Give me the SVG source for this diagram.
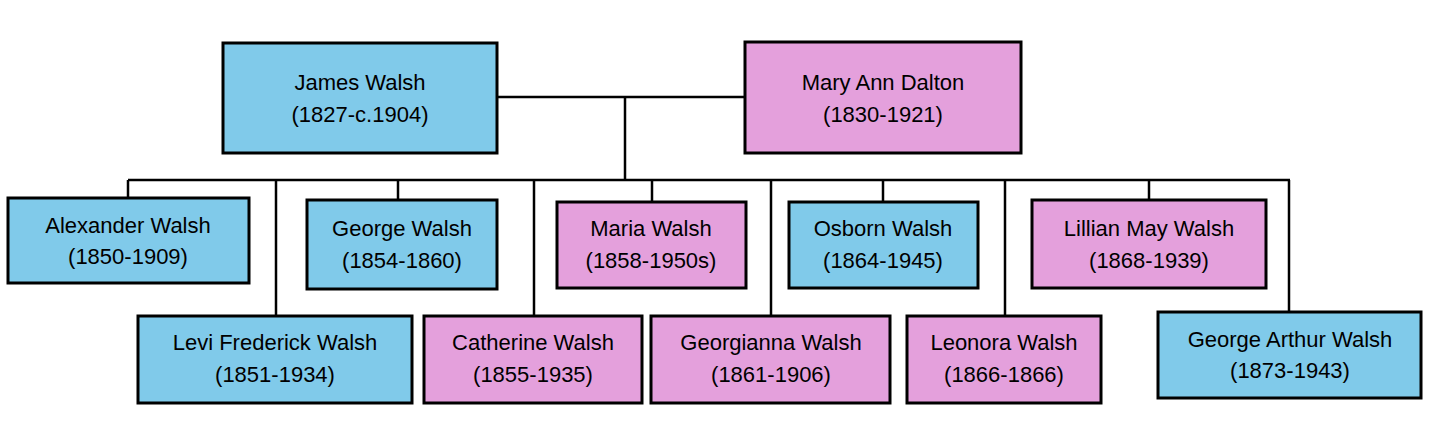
<svg xmlns="http://www.w3.org/2000/svg" width="1431" height="436" viewBox="0 0 1431 436">
<style>
.b{fill:#80CAEA;stroke:#000;stroke-width:3}
.p{fill:#E4A0DC;stroke:#000;stroke-width:3}
text{font-family:"Liberation Sans",Arial,sans-serif;font-size:22px;text-anchor:middle;fill:#000}
#connectors line{stroke:#000;stroke-width:2.5}
</style>
<rect width="1431" height="436" fill="#fff"/>
<g id="connectors">
<line x1="497" y1="97" x2="745" y2="97"/>
<line x1="625" y1="97" x2="625" y2="180"/>
<line x1="128" y1="180" x2="1290" y2="180"/>
<line x1="128" y1="180" x2="128" y2="198"/>
<line x1="398" y1="180" x2="398" y2="200"/>
<line x1="652" y1="180" x2="652" y2="202"/>
<line x1="883" y1="180" x2="883" y2="202"/>
<line x1="1149" y1="180" x2="1149" y2="200"/>
<line x1="276" y1="180" x2="276" y2="316"/>
<line x1="534" y1="180" x2="534" y2="316"/>
<line x1="771" y1="180" x2="771" y2="316"/>
<line x1="1005" y1="180" x2="1005" y2="316"/>
<line x1="1289" y1="180" x2="1289" y2="312"/>
</g>
<g id="james"><rect class="b" x="223" y="43" width="274" height="110"/><text x="360" y="90">James Walsh</text><text x="360" y="122">(1827-c.1904)</text></g>
<g id="mary"><rect class="p" x="745" y="42" width="276" height="111"/><text x="883" y="90">Mary Ann Dalton</text><text x="883" y="122">(1830-1921)</text></g>
<g id="alexander"><rect class="b" x="8" y="198" width="241" height="85"/><text x="128" y="233">Alexander Walsh</text><text x="128" y="264">(1850-1909)</text></g>
<g id="george"><rect class="b" x="307" y="200" width="190" height="89"/><text x="402" y="236">George Walsh</text><text x="402" y="268">(1854-1860)</text></g>
<g id="maria"><rect class="p" x="557" y="202" width="189" height="86"/><text x="651" y="236">Maria Walsh</text><text x="651" y="268">(1858-1950s)</text></g>
<g id="osborn"><rect class="b" x="789" y="202" width="189" height="86"/><text x="883" y="236">Osborn Walsh</text><text x="883" y="268">(1864-1945)</text></g>
<g id="lillian"><rect class="p" x="1032" y="200" width="234" height="88"/><text x="1149" y="236">Lillian May Walsh</text><text x="1149" y="268">(1868-1939)</text></g>
<g id="levi"><rect class="b" x="138" y="316" width="274" height="87"/><text x="275" y="350">Levi Frederick Walsh</text><text x="275" y="382">(1851-1934)</text></g>
<g id="catherine"><rect class="p" x="424" y="316" width="218" height="87"/><text x="533" y="350">Catherine Walsh</text><text x="533" y="382">(1855-1935)</text></g>
<g id="georgianna"><rect class="p" x="651" y="316" width="239" height="87"/><text x="771" y="350">Georgianna Walsh</text><text x="771" y="382">(1861-1906)</text></g>
<g id="leonora"><rect class="p" x="907" y="316" width="194" height="87"/><text x="1004" y="350">Leonora Walsh</text><text x="1004" y="382">(1866-1866)</text></g>
<g id="georgearthur"><rect class="b" x="1158" y="312" width="263" height="86"/><text x="1290" y="347">George Arthur Walsh</text><text x="1290" y="378">(1873-1943)</text></g>
</svg>
